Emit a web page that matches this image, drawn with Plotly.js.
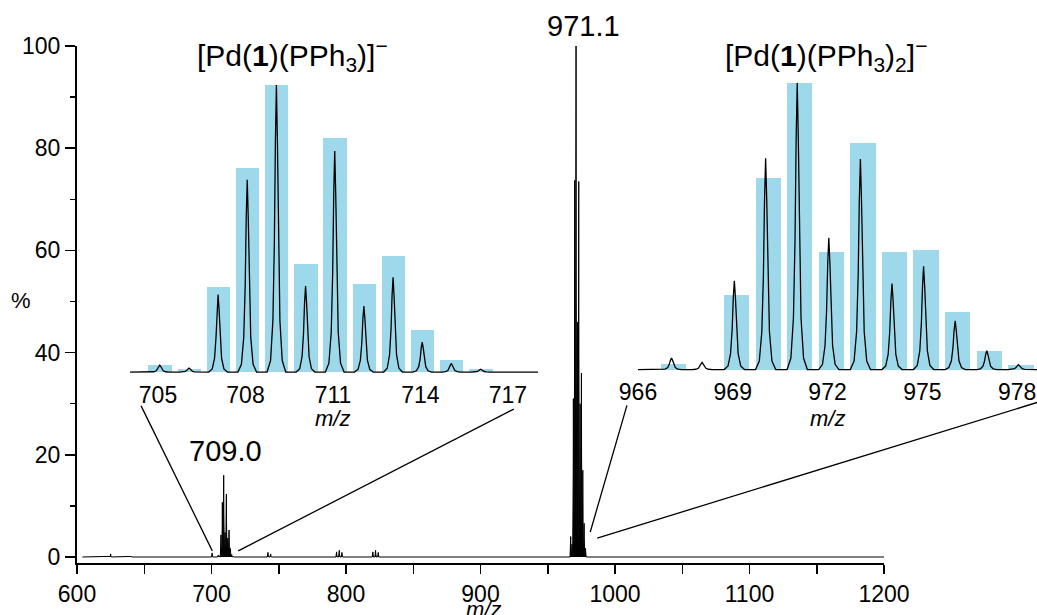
<!DOCTYPE html>
<html>
<head>
<meta charset="utf-8">
<script src="https://cdn.plot.ly/plotly-3.0.1.min.js"></script>
<style>
  html, body { margin: 0; padding: 0; background: #ffffff; }
  #chart { width: 1037px; height: 615px; }
</style>
</head>
<body>
<div id="chart"></div>
<script>
// ---- [Pd(1)(PPh3)]− cluster (m/z ≈ 709) ----
// measured isotope lines: apex m/z and intensity (% of cluster maximum)
const monoMz   = [705.06, 706.06, 707.06, 708.06, 709.06, 710.06, 711.06, 712.06, 713.06, 714.06, 715.06, 716.06];
const monoExp  = [2.4, 1.4, 27, 67, 100, 30, 77, 23, 33, 10.4, 3, 1];
// simulated isotope pattern
const monoSimMz = [705.07, 706.07, 707.07, 708.07, 709.07, 710.07, 711.07, 712.07, 713.07, 714.07, 715.07, 716.07];
const monoSim   = [2.4, 1, 29.7, 71, 100, 37.6, 81.4, 30.7, 40.6, 14.6, 4.2, 1];
const monoTicks = [705, 708, 711, 714, 717];

// ---- [Pd(1)(PPh3)2]− cluster (m/z ≈ 971) ----
const bisMz    = [967.06, 968.03, 969.05, 970.04, 971.04, 972.04, 973.04, 974.04, 975.04, 976.04, 977.04, 978.04];
const bisExp   = [4, 2.5, 31, 73.7, 100, 46, 73.5, 30, 36, 17, 6.6, 1.7];
const bisSimMz = [967.12, 969.12, 970.12, 971.12, 972.12, 973.12, 974.12, 975.12, 976.12, 977.12, 978.12];
const bisSim   = [2, 26, 67, 100, 41, 79, 41, 41.7, 20, 6.6, 1.5];
const bisTicks = [966, 969, 972, 975, 978];

// relative abundance of each cluster in the full scan (%)
const monoScale = 16;
const bisScale  = 100;

// weak background signals in the full scan
const minorMz  = [625, 640, 700.5, 742, 744, 793, 795, 797, 820, 822, 824];
const minorInt = [0.6, 0.2, 0.8, 0.9, 0.6, 1.0, 1.3, 0.9, 1.0, 1.3, 0.9];

const mainTicks = [600, 700, 800, 900, 1000, 1100, 1200];
const yTicks    = [0, 20, 40, 60, 80, 100];

// ---- figure geometry (fractions of the 1037 x 615 figure) ----
const W = 1037, H = 615;
const fx = px => px / W;
const fy = py => 1 - py / H;

const ax = {
  main:  { x: { domain: [fx(77),  fx(884)],  range: [600, 1200] },
           y: { domain: [fy(563), fy(46)],   range: [-1.174, 100] } },
  mono:  { x: { domain: [fx(130), fx(538)],  range: [704.04, 718.03] },
           y: { domain: [fy(374.9), fy(85)], range: [-1, 100] } },
  bis:   { x: { domain: [fx(638), fx(1037)], range: [966.0, 978.63] },
           y: { domain: [fy(372.4), fy(83)], range: [-1, 100] } }
};
// axis value -> figure fraction
const toPaper = (a, v) => a.domain[0] + (v - a.range[0]) / (a.range[1] - a.range[0]) * (a.domain[1] - a.domain[0]);

// line shape of a single isotope peak (relative offsets / relative heights):
// narrow in the zoomed insets, broader in the low-resolution full scan
const PEAK_ZOOM = { dx: [-0.32, -0.2, -0.12, -0.07, -0.035, 0, 0.035, 0.07, 0.12, 0.2, 0.32],
                    f:  [0, 0.04, 0.18, 0.45, 0.8, 1, 0.8, 0.45, 0.18, 0.04, 0] };
const PEAK_SCAN = { dx: [-0.5, -0.3, -0.12, 0, 0.12, 0.3, 0.5],
                    f:  [0, 0.2, 0.55, 1, 0.55, 0.2, 0] };

function addPeaks(xs, ys, mz, inten, scale, shape) {
  mz.forEach((m, i) => {
    shape.dx.forEach((d, k) => { xs.push(m + d); ys.push(inten[i] * scale * shape.f[k]); });
  });
}
function profile(x0, x1, mz, inten) {
  const xs = [x0], ys = [0];
  addPeaks(xs, ys, mz, inten, 1, PEAK_ZOOM);
  xs.push(x1); ys.push(0);
  return { xs, ys };
}

// full-scan trace
const fullX = [604], fullY = [0];
addPeaks(fullX, fullY, minorMz.slice(0, 3), minorInt.slice(0, 3), 1, PEAK_SCAN);
addPeaks(fullX, fullY, monoMz, monoExp, monoScale / 100, PEAK_SCAN);
addPeaks(fullX, fullY, minorMz.slice(3), minorInt.slice(3), 1, PEAK_SCAN);
addPeaks(fullX, fullY, bisMz, bisExp, bisScale / 100, PEAK_SCAN);
fullX.push(1200); fullY.push(0);

const monoProf = profile(ax.mono.x.range[0], ax.mono.x.range[1], monoMz, monoExp);
const bisProf  = profile(ax.bis.x.range[0],  ax.bis.x.range[1],  bisMz,  bisExp);

const FONT = 'Liberation Sans, Arial, Helvetica, sans-serif';
const SIM_BLUE = '#9dd9ea';

const traces = [
  { type: 'scatter', mode: 'lines', x: fullX, y: fullY, xaxis: 'x', yaxis: 'y',
    fill: 'tozeroy', fillcolor: '#000',
    line: { color: '#000', width: 1 }, hoverinfo: 'skip' },
  { type: 'bar', x: monoSimMz, y: monoSim, width: 0.8, xaxis: 'x2', yaxis: 'y2',
    marker: { color: SIM_BLUE, line: { width: 0 } }, hoverinfo: 'skip' },
  { type: 'scatter', mode: 'lines', x: monoProf.xs, y: monoProf.ys, xaxis: 'x2', yaxis: 'y2',
    line: { color: '#000', width: 1.3 }, hoverinfo: 'skip' },
  { type: 'bar', x: bisSimMz, y: bisSim, width: 0.8, xaxis: 'x3', yaxis: 'y3',
    marker: { color: SIM_BLUE, line: { width: 0 } }, hoverinfo: 'skip' },
  { type: 'scatter', mode: 'lines', x: bisProf.xs, y: bisProf.ys, xaxis: 'x3', yaxis: 'y3',
    line: { color: '#000', width: 1.3 }, hoverinfo: 'skip' }
];

const insetX = (a, ticks, anchor) => ({
  domain: a.domain, range: a.range, anchor: anchor,
  tickmode: 'array', tickvals: ticks, ticktext: ticks.map(String),
  ticks: '', showline: false, showgrid: false, zeroline: false,
  tickfont: { family: FONT, size: 23, color: '#000' }, ticklabelstandoff: 4
});
const insetY = (a, anchor) => ({
  domain: a.domain, range: a.range, anchor: anchor, visible: false,
  showgrid: false, zeroline: false
});

// connector lines between each inset and its cluster in the full scan
function connector(inset, ix, iy, mx, my) {
  return {
    type: 'line', xref: 'paper', yref: 'paper',
    x0: toPaper(inset.x, ix), y0: toPaper(inset.y, iy),
    x1: toPaper(ax.main.x, mx), y1: toPaper(ax.main.y, my),
    line: { color: '#000', width: 1.3 }
  };
}

const shapes = [
  connector(ax.mono, 704.42, -11.8, 700.6, 1.2),
  connector(ax.mono, 717.2, -12.9, 719.9, 1.2),
  connector(ax.bis, 965.65, -12.5, 981.6, 4.9),
  connector(ax.bis, 978.63, -11.5, 986.8, 3.7)
];

const annFont = (size, extra) => Object.assign({ family: FONT, size: size, color: '#000' }, extra || {});
const annotations = [
  { text: '971.1', xref: 'x', yref: 'paper', x: 971.1, xshift: 7, y: fy(26),
    showarrow: false, xanchor: 'center', yanchor: 'middle', font: annFont(29) },
  { text: '709.0', xref: 'x', yref: 'paper', x: 709.0, xshift: 2, y: fy(451),
    showarrow: false, xanchor: 'center', yanchor: 'middle', font: annFont(29) },
  { text: '[Pd(<b>1</b>)(PPh<sub>3</sub>)]<sup>−</sup>', xref: 'paper', yref: 'paper',
    x: fx(292), y: fy(55), showarrow: false, xanchor: 'center', yanchor: 'middle', font: annFont(30) },
  { text: '[Pd(<b>1</b>)(PPh<sub>3</sub>)<sub>2</sub>]<sup>−</sup>', xref: 'paper', yref: 'paper',
    x: fx(826), y: fy(55), showarrow: false, xanchor: 'center', yanchor: 'middle', font: annFont(30) },
  { text: '%', xref: 'paper', yref: 'paper', x: fx(21), y: fy(300),
    showarrow: false, xanchor: 'center', yanchor: 'middle', font: annFont(22) },
  { text: '<i>m/z</i>', xref: 'paper', yref: 'paper', x: fx(483), y: fy(609),
    showarrow: false, xanchor: 'center', yanchor: 'middle', font: annFont(22) },
  { text: '<i>m/z</i>', xref: 'x2', yref: 'paper', x: 711, y: fy(418),
    showarrow: false, xanchor: 'center', yanchor: 'middle', font: annFont(22) },
  { text: '<i>m/z</i>', xref: 'x3', yref: 'paper', x: 972, y: fy(418),
    showarrow: false, xanchor: 'center', yanchor: 'middle', font: annFont(22) }
];

const layout = {
  width: W, height: H,
  margin: { l: 0, r: 0, t: 0, b: 0, pad: 0 },
  paper_bgcolor: '#ffffff', plot_bgcolor: 'rgba(0,0,0,0)',
  showlegend: false, bargap: 0,
  font: { family: FONT, color: '#000' },
  xaxis: {
    domain: ax.main.x.domain, range: ax.main.x.range, anchor: 'y',
    tickmode: 'array', tickvals: mainTicks, ticktext: mainTicks.map(String),
    ticks: 'outside', ticklen: 9, tickwidth: 1.5, tickcolor: '#000',
    minor: { tickmode: 'linear', tick0: 650, dtick: 100, ticks: 'outside', ticklen: 9, tickwidth: 1.5, tickcolor: '#000' },
    showline: true, linewidth: 2, linecolor: '#000', mirror: false,
    showgrid: false, zeroline: false,
    tickfont: { family: FONT, size: 23, color: '#000' }
  },
  yaxis: {
    domain: ax.main.y.domain, range: ax.main.y.range, anchor: 'x',
    tickmode: 'array', tickvals: yTicks, ticktext: yTicks.map(String),
    ticks: 'outside', ticklen: 10, tickwidth: 1.5, tickcolor: '#000',
    minor: { tickmode: 'linear', tick0: 10, dtick: 20, ticks: 'outside', ticklen: 5, tickwidth: 1.5, tickcolor: '#000' },
    showline: true, linewidth: 2, linecolor: '#000',
    showgrid: false, zeroline: false,
    tickfont: { family: FONT, size: 23, color: '#000' }
  },
  xaxis2: insetX(ax.mono.x, monoTicks, 'y2'),
  yaxis2: insetY(ax.mono.y, 'x2'),
  xaxis3: insetX(ax.bis.x, bisTicks, 'y3'),
  yaxis3: insetY(ax.bis.y, 'x3'),
  shapes: shapes,
  annotations: annotations
};

Plotly.newPlot('chart', traces, layout, { staticPlot: true, displayModeBar: false });
</script>
</body>
</html>
